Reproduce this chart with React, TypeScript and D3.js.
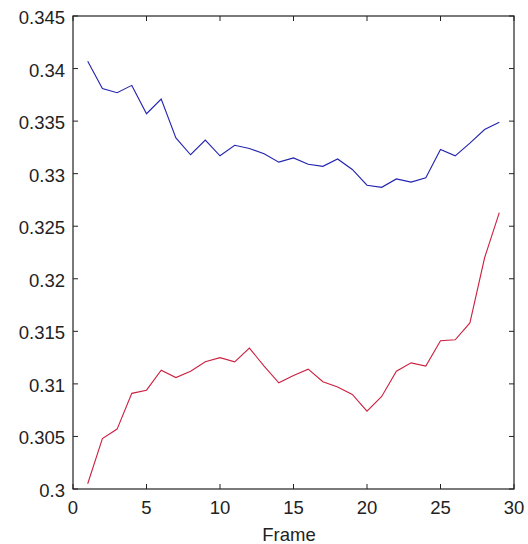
import * as d3 from "d3";
import { useEffect, useRef } from "react";

// frame numbers and the two series
const frames = d3.range(1, 30);
const blueValues = [
  0.3407, 0.3381, 0.3377, 0.3384, 0.3357, 0.3371, 0.3334, 0.3318, 0.3332, 0.3317,
  0.3327, 0.3324, 0.3319, 0.3311, 0.3315, 0.3309, 0.3307, 0.3314, 0.3304, 0.3289,
  0.3287, 0.3295, 0.3292, 0.3296, 0.3323, 0.3317, 0.3329, 0.3342, 0.3349,
];
const redValues = [
  0.3005, 0.3048, 0.3057, 0.3091, 0.3094, 0.3113, 0.3106, 0.3112, 0.3121, 0.3125,
  0.3121, 0.3134, 0.3117, 0.3101, 0.3108, 0.3114, 0.3102, 0.3097, 0.3090, 0.3074,
  0.3088, 0.3112, 0.3120, 0.3117, 0.3141, 0.3142, 0.3158, 0.3220, 0.3263,
];
const xTicks = [0, 5, 10, 15, 20, 25, 30];
const yTicks = [0.3, 0.305, 0.31, 0.315, 0.32, 0.325, 0.33, 0.335, 0.34, 0.345];
const xLabel = "Frame";

const W = 528;
const H = 544;

const App = () => {
  const ref = useRef<SVGSVGElement>(null);

  useEffect(() => {
    const margin = { top: 16, right: 14, bottom: 55, left: 73 };
    const svg = d3.select(ref.current);
    svg.selectAll("*").remove();

    const x = d3.scaleLinear().domain([0, 30]).range([margin.left, W - margin.right]);
    const y = d3.scaleLinear().domain([0.3, 0.345]).range([H - margin.bottom, margin.top]);
    const font = "Arial, 'Liberation Sans', sans-serif";
    const tickLen = 5;

    const series = [
      { values: blueValues, color: "#2222b0" },
      { values: redValues, color: "#cc2040" },
    ];
    const line = d3
      .line<number>()
      .x((_, i) => x(frames[i]))
      .y((d) => y(d));
    series.forEach((s) => {
      svg
        .append("path")
        .datum(s.values)
        .attr("d", line)
        .attr("fill", "none")
        .attr("stroke", s.color)
        .attr("stroke-width", 1.1);
    });

    // box
    svg
      .append("rect")
      .attr("x", x(0))
      .attr("y", y(0.345))
      .attr("width", x(30) - x(0))
      .attr("height", y(0.3) - y(0.345))
      .attr("fill", "none")
      .attr("stroke", "#222")
      .attr("stroke-width", 1.2);

    // x ticks (bottom + top, inward)
    xTicks.forEach((t) => {
      svg.append("line").attr("x1", x(t)).attr("x2", x(t))
        .attr("y1", y(0.3)).attr("y2", y(0.3) - tickLen).attr("stroke", "#222");
      svg.append("line").attr("x1", x(t)).attr("x2", x(t))
        .attr("y1", y(0.345)).attr("y2", y(0.345) + tickLen).attr("stroke", "#222");
      svg.append("text")
        .attr("x", x(t))
        .attr("y", 514)
        .attr("text-anchor", "middle")
        .attr("font-family", font)
        .attr("font-size", 18.5)
        .attr("fill", "#222")
        .text(t);
    });

    // y ticks (left + right, inward)
    yTicks.forEach((t) => {
      svg.append("line").attr("x1", x(0)).attr("x2", x(0) + tickLen)
        .attr("y1", y(t)).attr("y2", y(t)).attr("stroke", "#222");
      svg.append("line").attr("x1", x(30)).attr("x2", x(30) - tickLen)
        .attr("y1", y(t)).attr("y2", y(t)).attr("stroke", "#222");
      svg.append("text")
        .attr("x", 65)
        .attr("y", y(t) + 8)
        .attr("text-anchor", "end")
        .attr("font-family", font)
        .attr("font-size", 18.5)
        .attr("fill", "#222")
        .text(d3.format("")(t));
    });

    // axis title
    svg.append("text")
      .attr("x", 289)
      .attr("y", 541)
      .attr("text-anchor", "middle")
      .attr("font-family", font)
      .attr("font-size", 18.5)
      .attr("fill", "#222")
      .text(xLabel);
  }, []);

  return (
    <svg
      ref={ref}
      width={W}
      height={H}
      style={{ position: "absolute", left: 0, top: 0, background: "#fff" }}
    />
  );
};

export default App;
